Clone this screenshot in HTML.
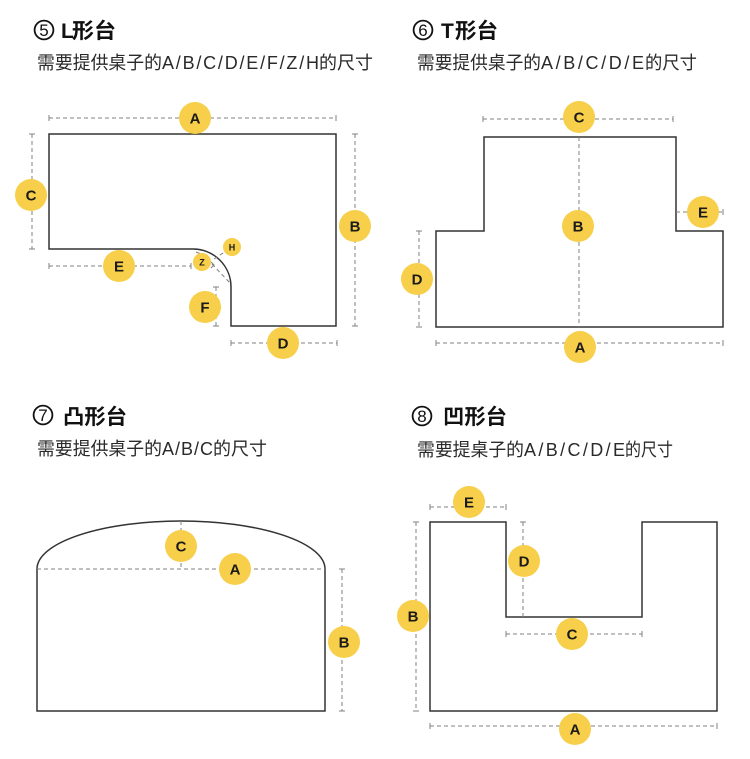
<!DOCTYPE html>
<html><head><meta charset="utf-8">
<style>
html,body{margin:0;padding:0;background:#fff;}
svg{display:block;}
text{font-family:"Liberation Sans","Noto Sans CJK SC",sans-serif;}
.t{font-size:21px;font-weight:bold;fill:#111;}
.cn{fill:none;stroke:#111;stroke-width:1.8;}
.nd{font-size:17px;fill:#111;text-anchor:middle;}
.s{font-size:18px;fill:#2a2a2a;}
.sh{fill:none;stroke:#333;stroke-width:1.5;}
.d{fill:none;stroke:#808080;stroke-width:1;stroke-dasharray:4 3;}
.k{fill:none;stroke:#808080;stroke-width:1;}
.c{fill:#F8CF4A;}
.l{font-size:15px;font-weight:bold;fill:#1a1a1a;text-anchor:middle;}
.ls{font-size:9px;font-weight:bold;fill:#1a1a1a;text-anchor:middle;}
</style></head>
<body>
<svg width="750" height="759" viewBox="0 0 750 759" xmlns="http://www.w3.org/2000/svg">
<!-- Titles -->
<circle class="cn" cx="44" cy="30" r="9.4"/><text class="nd" x="44" y="36">5</text>
<text class="t" x="61" y="38">L</text>
<text class="t" x="72" y="38" textLength="44" lengthAdjust="spacingAndGlyphs">形台</text>
<text class="s" x="37" y="69" textLength="125" lengthAdjust="spacingAndGlyphs">需要提供桌子的</text>
<text class="s" x="162" y="69" textLength="157" lengthAdjust="spacing">A/B/C/D/E/F/Z/H</text>
<text class="s" x="319" y="69" textLength="54" lengthAdjust="spacingAndGlyphs">的尺寸</text>

<circle class="cn" cx="423" cy="30" r="9.4"/><text class="nd" x="423" y="36">6</text>
<text class="t" x="441" y="38">T</text>
<text class="t" x="455" y="38" textLength="43" lengthAdjust="spacingAndGlyphs">形台</text>
<text class="s" x="417" y="69" textLength="124" lengthAdjust="spacingAndGlyphs">需要提供桌子的</text>
<text class="s" x="541" y="69" textLength="103" lengthAdjust="spacing">A/B/C/D/E</text>
<text class="s" x="645" y="69" textLength="52" lengthAdjust="spacingAndGlyphs">的尺寸</text>

<circle class="cn" cx="43" cy="415" r="9.4"/><text class="nd" x="43" y="421">7</text>
<text class="t" x="63" y="424" textLength="64" lengthAdjust="spacingAndGlyphs">凸形台</text>
<text class="s" x="37" y="455" textLength="125" lengthAdjust="spacingAndGlyphs">需要提供桌子的</text>
<text class="s" x="162" y="455" textLength="51" lengthAdjust="spacing">A/B/C</text>
<text class="s" x="213" y="455" textLength="54" lengthAdjust="spacingAndGlyphs">的尺寸</text>

<circle class="cn" cx="422" cy="416" r="9.4"/><text class="nd" x="422" y="422">8</text>
<text class="t" x="443" y="424" textLength="64" lengthAdjust="spacingAndGlyphs">凹形台</text>
<text class="s" x="417" y="456" textLength="107" lengthAdjust="spacingAndGlyphs">需要提桌子的</text>
<text class="s" x="524" y="456" textLength="101" lengthAdjust="spacing">A/B/C/D/E</text>
<text class="s" x="625" y="456" textLength="48" lengthAdjust="spacingAndGlyphs">的尺寸</text>

<!-- ===== Section 5: L ===== -->
<path class="sh" d="M49,134 H336 V326 H231 V287 A38,38 0 0 0 193,249 H49 Z"/>
<line class="d" x1="49" y1="118" x2="336" y2="118"/>
<path class="k" d="M49,115 V121 M336,115 V121"/>
<line class="d" x1="32" y1="134" x2="32" y2="249"/>
<path class="k" d="M29,134 H35 M29,249 H35"/>
<line class="d" x1="355" y1="134" x2="355" y2="326"/>
<path class="k" d="M352,134 H358 M352,326 H358"/>
<line class="d" x1="49" y1="266" x2="191" y2="266"/>
<path class="k" d="M49,263 V269 M191,263 V269"/>
<line class="d" x1="216" y1="287" x2="216" y2="326"/>
<path class="k" d="M213,287 H219 M213,326 H219"/>
<line class="d" x1="231" y1="343" x2="337" y2="343"/>
<path class="k" d="M231,340 V346 M337,340 V346"/>
<line class="d" x1="212" y1="264" x2="231" y2="284" stroke-dasharray="3 2"/>
<line class="d" x1="214" y1="259" x2="226" y2="251" stroke-dasharray="3 2"/>
<line class="d" x1="196" y1="252" x2="201" y2="254" stroke-dasharray="3 2"/>
<path class="k" d="M211,262 L214,265 L211,268"/>
<circle class="c" cx="195" cy="118" r="16"/><text class="l" x="195" y="123.5">A</text>
<circle class="c" cx="31" cy="195" r="16"/><text class="l" x="31" y="200.5">C</text>
<circle class="c" cx="355" cy="226" r="16"/><text class="l" x="355" y="231.5">B</text>
<circle class="c" cx="119" cy="266" r="16"/><text class="l" x="119" y="271.5">E</text>
<circle class="c" cx="205" cy="307" r="16"/><text class="l" x="205" y="312.5">F</text>
<circle class="c" cx="283" cy="343" r="16"/><text class="l" x="283" y="348.5">D</text>
<circle class="c" cx="202" cy="262" r="9"/><text class="ls" x="202" y="265.5">Z</text>
<circle class="c" cx="232" cy="247" r="9"/><text class="ls" x="232" y="250.5">H</text>

<!-- ===== Section 6: T ===== -->
<path class="sh" d="M436,231 H484 V137 H676 V231 H723 V327 H436 Z"/>
<line class="d" x1="483" y1="119" x2="673" y2="119"/>
<path class="k" d="M483,116 V122 M673,116 V122"/>
<line class="d" x1="579" y1="137" x2="579" y2="327"/>
<line class="d" x1="676" y1="212" x2="723" y2="212"/>
<path class="k" d="M723,209 V215"/>
<line class="d" x1="419" y1="231" x2="419" y2="327"/>
<path class="k" d="M416,231 H422 M416,327 H422"/>
<line class="d" x1="436" y1="343" x2="723" y2="343"/>
<path class="k" d="M436,340 V346 M723,340 V346"/>
<circle class="c" cx="579" cy="117" r="16"/><text class="l" x="579" y="122.5">C</text>
<circle class="c" cx="578" cy="226" r="16"/><text class="l" x="578" y="231.5">B</text>
<circle class="c" cx="703" cy="212" r="16"/><text class="l" x="703" y="217.5">E</text>
<circle class="c" cx="417" cy="279" r="16"/><text class="l" x="417" y="284.5">D</text>
<circle class="c" cx="580" cy="347" r="16"/><text class="l" x="580" y="352.5">A</text>

<!-- ===== Section 7: convex ===== -->
<path class="sh" d="M37,569 A144,48 0 0 1 325,569 V711 H37 Z"/>
<line class="d" x1="37" y1="569" x2="325" y2="569"/>
<line class="d" x1="181" y1="521" x2="181" y2="569"/>
<line class="d" x1="342" y1="569" x2="342" y2="711"/>
<path class="k" d="M339,569 H345 M339,711 H345"/>
<circle class="c" cx="181" cy="546" r="16"/><text class="l" x="181" y="551.5">C</text>
<circle class="c" cx="235" cy="569" r="16"/><text class="l" x="235" y="574.5">A</text>
<circle class="c" cx="344" cy="642" r="16"/><text class="l" x="344" y="647.5">B</text>

<!-- ===== Section 8: concave ===== -->
<path class="sh" d="M430,522 H506 V617 H642 V522 H717 V711 H430 Z"/>
<line class="d" x1="430" y1="507" x2="506" y2="507"/>
<path class="k" d="M430,504 V510 M506,504 V510"/>
<line class="d" x1="523" y1="522" x2="523" y2="617"/>
<path class="k" d="M520,522 H526"/>
<line class="d" x1="416" y1="522" x2="416" y2="711"/>
<path class="k" d="M413,522 H419 M413,711 H419"/>
<line class="d" x1="506" y1="634" x2="642" y2="634"/>
<path class="k" d="M506,631 V637 M642,631 V637"/>
<line class="d" x1="430" y1="726" x2="717" y2="726"/>
<path class="k" d="M430,723 V729 M717,723 V729"/>
<circle class="c" cx="469" cy="502" r="16"/><text class="l" x="469" y="507.5">E</text>
<circle class="c" cx="524" cy="561" r="16"/><text class="l" x="524" y="566.5">D</text>
<circle class="c" cx="413" cy="616" r="16"/><text class="l" x="413" y="621.5">B</text>
<circle class="c" cx="572" cy="634" r="16"/><text class="l" x="572" y="639.5">C</text>
<circle class="c" cx="575" cy="729" r="16"/><text class="l" x="575" y="734.5">A</text>
</svg>
</body></html>
